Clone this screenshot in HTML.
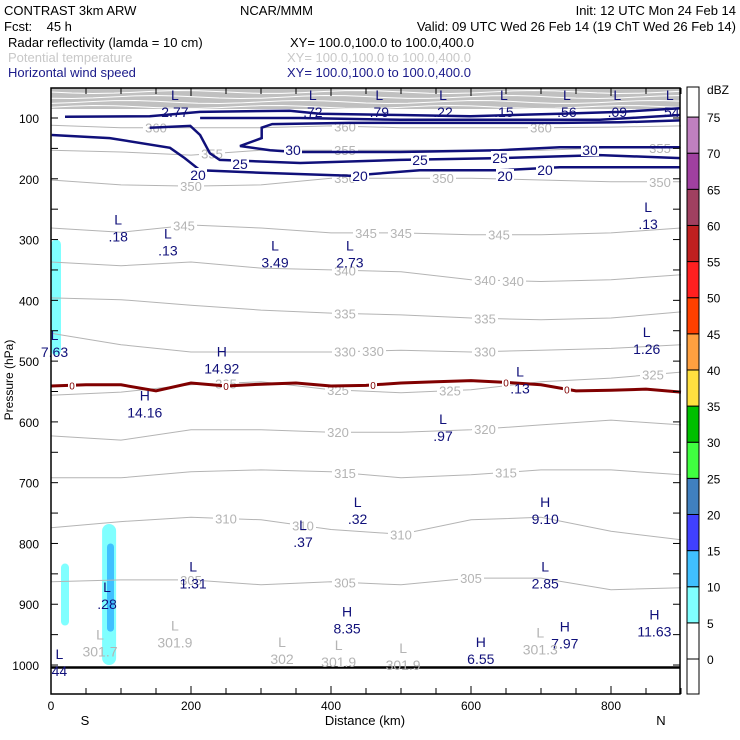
<!DOCTYPE html>
<html><head><meta charset="utf-8"><style>
body{margin:0;background:#fff;width:740px;height:740px;overflow:hidden}
svg{display:block;font-family:"Liberation Sans",sans-serif}
</style></head><body>
<svg id="c" width="740" height="740" xmlns="http://www.w3.org/2000/svg">
<g font-size="13">
<text x="4" y="15">CONTRAST  3km ARW</text>
<text x="240" y="15">NCAR/MMM</text>
<text x="736" y="15" text-anchor="end">Init: 12 UTC Mon 24 Feb 14</text>
<text x="4" y="31" xml:space="preserve">Fcst:    45 h</text>
<text x="736" y="31" text-anchor="end">Valid: 09 UTC Wed 26 Feb 14 (19 ChT Wed 26 Feb 14)</text>
<text x="8" y="47">Radar reflectivity (lamda = 10 cm)</text>
<text x="290" y="47">XY= 100.0,100.0 to 100.0,400.0</text>
<text x="8" y="62" fill="#c8c8c8">Potential temperature</text>
<text x="287" y="62" fill="#c8c8c8">XY= 100.0,100.0 to 100.0,400.0</text>
<text x="8" y="77" fill="#1a1a8a">Horizontal wind speed</text>
<text x="287" y="77" fill="#1a1a8a">XY= 100.0,100.0 to 100.0,400.0</text>
</g>
<g id="plot"></g>
</svg>
<script>
const xTicks=[0,200,400,600,800];
const yTicks=[100,200,300,400,500,600,700,800,900,1000];
const thetaLevels=[360,355,350,345,340,335,330,325,320,315,310,305];
const thetaKm=[0,100,200,300,400,500,600,700,800,900];
const thetaP=[
[112,116,116,116,113,116,116,116,115,113],
[153,156,161,153,153,153,153,153,149,149],
[202,210,212,210,199,199,199,202,205,205],
[281,288,276,281,289,289,292,292,289,281],
[337,343,337,347,350,353,366,369,366,358],
[396,399,408,416,421,424,429,432,429,419],
[454,473,485,485,485,482,485,482,479,473],
[556,551,539,534,547,552,547,534,528,518],
[623,630,613,613,617,617,613,605,597,605],
[692,692,682,679,682,692,687,679,679,687],
[774,764,757,761,777,785,761,757,780,794],
[863,860,860,868,863,868,857,857,876,873]];
const thetaLabelKm=[[150,420,700],[230,420,870],[200,420,560,870],[190,450,500,640],[420,620,660],[420,620],[420,460,620],[250,410,570,860],[410,620],[420,650],[250,500,360],[200,420,600]];
const freezeKm=[0,50,100,150,200,250,300,350,400,450,500,550,600,650,700,750,800,850,900];
const freezeP=[541,539,539,549,536,541,538,536,541,540,536,534,532,535,539,549,548,546,551];
const windLines=[
{lev:20,km:[1,84,170,191,213,299,427,527,641,727,899],p:[128,133,149,166,186,190,195,186,186,181,181]},
{lev:25,km:[141,199,213,227,241,356,499,641,784,899],p:[116,113,128,158,169,174,169,166,161,166]},
{lev:30,km:[899,813,727,641,499,349,313,270,301,301,316,427,570,727,813,899],p:[148,148,148,153,156,156,153,146,133,116,110,108,108,108,107,104]},
{lev:35,km:[20,141,213,341,384,499,599,727,813,899],p:[98,97,90,88,93,95,97,93,90,84]},
{lev:35,km:[213,356,499,641,784,899],p:[100,100,103,103,103,95]}];
const windLabels=[[20,198,175],[25,240,164],[30,293,150],[25,420,160],[25,500,158],[20,360,176],[20,505,176],[20,545,170],[30,590,150]];
const extrema=[
["L","2.77",177,75],["L",".72",374,75],["L",".79",469,75],["L",".22",560,75],["L",".15",647,75],["L",".56",737,75],["L",".09",809,75],["L",".54",884,75],
["L",".18",96,280],["L",".13",167,303],["L","3.49",320,323],["L","2.73",427,323],["L",".13",853,260],["L","7.63",5,470],["L","1.26",851,465],
["H","14.92",244,497],["H","14.16",134,570],["L",".13",670,530],["L",".97",560,608],["L",".32",438,745],["H","9.10",706,745],["L",".37",360,783],
["L","1.31",203,851],["L",".28",80,885],["L","2.85",706,851],["H","8.35",423,925],["H","7.97",734,950],["H","11.63",862,930],["H","6.55",614,975],["L","44",12,995]];
const thetaExtrema=[["L","301.7",70,963],["L","301.9",177,948],["L","302",330,975],["L","301.9",411,980],["L","301.9",503,985],["L","301.3",699,960]];
const cbLevels=[0,5,10,15,20,25,30,35,40,45,50,55,60,65,70,75];
const cbColors=["#fff","#fff","#80ffff","#40c0ff","#4040ff","#4080c0","#40ff40","#00c000","#ffe040","#ffa040","#ff4000","#ff2020","#c02020","#a04060","#a040a0","#c080c0","#fff"];
const reflBlobs=[{km:20,w:8,p1:833,p2:935,c:2},{km:83,w:14,p1:768,p2:1000,c:2},{km:85,w:7,p1:800,p2:945,c:3},{km:3,w:10,p1:300,p2:490,c:2},{km:6,w:8,p1:400,p2:480,c:2}];

const L=51,R=680,T=88,B=694;
const X=k=>L+0.7*k, Y=p=>118+(p-100)*0.6078;
const NS="http://www.w3.org/2000/svg";
const g=document.getElementById('plot');
function mk(t,a,par){const e=document.createElementNS(NS,t);for(const k in a)e.setAttribute(k,a[k]);(par||g).appendChild(e);return e;}
function txt(x,y,s,fill,anchor,size){const e=mk('text',{x:x,y:y,fill:fill||'#000','font-size':size||13,'text-anchor':anchor||'middle'});e.textContent=s;return e;}
function interp(kms,ps,k){for(let i=0;i<kms.length-1;i++){if(k>=kms[i]&&k<=kms[i+1]){const t=(k-kms[i])/(kms[i+1]-kms[i]);return ps[i]+t*(ps[i+1]-ps[i]);}}return ps[ps.length-1];}

// top gray band
const band=mk('rect',{x:L,y:T,width:R-L,height:21,fill:'#c0c0c0'});


for(let i=0;i<4;i++){const pts=[];for(let k=0;k<=900;k+=30){pts.push(X(k)+','+(T+4+i*5+Math.sin(k/40+i)*1.5));}
const w=mk('polyline',{points:pts.join(' '),fill:'none',stroke:'#fff','stroke-width':1});

}

// reflectivity
reflBlobs.forEach(b=>{const e=mk('rect',{x:Math.max(L,X(b.km)-b.w/2),y:Y(b.p1),width:b.w,height:Y(b.p2)-Y(b.p1),rx:b.w/2,fill:cbColors[b.c]});

});

// theta contours
thetaLevels.forEach((lev,i)=>{const pts=thetaKm.map((k,j)=>X(k)+','+Y(thetaP[i][j]).toFixed(1));
const e=mk('polyline',{points:pts.join(' '),fill:'none',stroke:'#b4b4b4','stroke-width':1});


thetaLabelKm[i].forEach(k=>{const y=Y(interp(thetaKm,thetaP[i],k));
mk('rect',{x:X(k)-13,y:y-6,width:26,height:12,fill:'#fff'});
const t=txt(X(k),y+5,String(lev),'#b4b4b4','middle',13);

});});

// wind contours
windLines.forEach(w=>{const pts=w.km.map((k,j)=>X(k)+','+Y(w.p[j]).toFixed(1));
const e=mk('polyline',{points:pts.join(' '),fill:'none',stroke:'#10107a','stroke-width':2.5});

});
windLabels.forEach(l=>{mk('rect',{x:l[1]-9,y:l[2]-7,width:18,height:13,fill:'#fff'});
const t=txt(l[1],l[2]+5,String(l[0]),'#10107a','middle',14);

});

// freezing line
const fz=mk('polyline',{points:freezeKm.map((k,j)=>X(k)+','+Y(freezeP[j]).toFixed(1)).join(' '),fill:'none',stroke:'#800000','stroke-width':3});


[30,250,460,650,737].forEach(k=>{const y=Y(interp(freezeKm,freezeP,k));mk('rect',{x:X(k)-4,y:y-5,width:8,height:10,fill:'#fff'});
const t=txt(X(k),y+4,'0','#800000','middle',10);

});

// surface line
const sf=mk('line',{x1:L,x2:R,y1:Y(1004),y2:Y(1004),stroke:'#000','stroke-width':2.5});



// extrema labels
extrema.forEach(e=>{const a=txt(X(e[2]),Y(e[3])-3,e[0],'#10107a','middle',14);


const b=txt(X(e[2]),Y(e[3])+14,e[1],'#10107a','middle',14);

});
thetaExtrema.forEach(e=>{const a=txt(X(e[2]),Y(e[3])-3,e[0],'#b4b4b4','middle',14);


const b=txt(X(e[2]),Y(e[3])+14,e[1],'#b4b4b4','middle',14);

});

// frame and ticks
const fr=mk('rect',{x:L,y:T,width:R-L,height:B-T,fill:'none',stroke:'#000','stroke-width':1.5});


for(let k=0;k<=900;k+=50){const l=k%200===0?8:6;mk('line',{x1:X(k),x2:X(k),y1:B,y2:B-l,stroke:'#000'});mk('line',{x1:X(k),x2:X(k),y1:T,y2:T+l,stroke:'#000'});}
for(let p=100;p<=1000;p+=50){mk('line',{x1:L,x2:L+7,y1:Y(p),y2:Y(p),stroke:'#000'});mk('line',{x1:R,x2:R-7,y1:Y(p),y2:Y(p),stroke:'#000'});}
xTicks.forEach(k=>{const t=txt(X(k),B+16,String(k),'#000','middle',12);

});
yTicks.forEach(p=>{const t=txt(L-12,Y(p)+5,String(p),'#000','end',12);

});
let t=txt(365,725,'Distance (km)','#000','middle',13);


t=txt(85,725,'S','#000','middle',13);


t=txt(661,725,'N','#000','middle',13);


t=txt(0,0,'Pressure (hPa)','#000','middle',12);
t.setAttribute('transform','translate(13,380) rotate(-90)');



// colorbar
const cbX=687,cbW=12,cbTop=87,cbBot=694,y0=659,step=36.13;
cbColors.forEach((c,i)=>{const yLow=i===0?cbBot:y0-(i-1)*step;const yHigh=i===16?cbTop:y0-i*step;
const r=mk('rect',{x:cbX,y:yHigh,width:cbW,height:yLow-yHigh,fill:c,stroke:'#000','stroke-width':1});

});
cbLevels.forEach((v,i)=>{const y=y0-i*step;const tt=txt(707,y+5,String(v),'#000','start',12);

});
t=txt(707,94,'dBZ','#000','start',12);


</script>
</body></html>
